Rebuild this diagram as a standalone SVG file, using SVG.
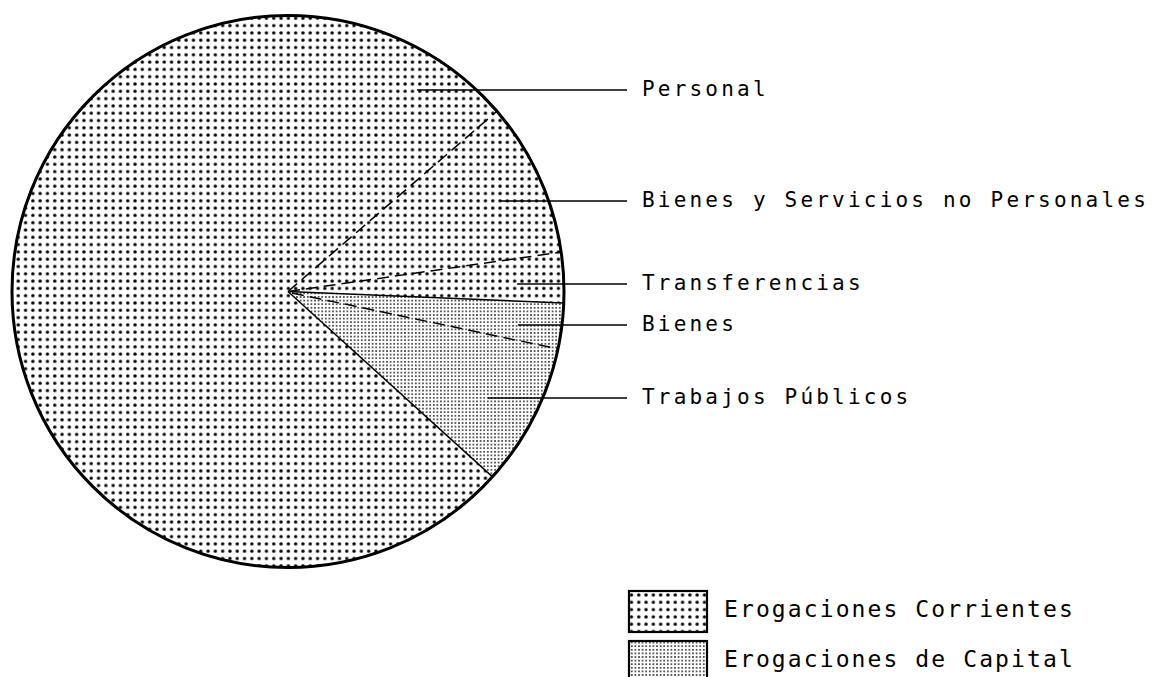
<svg xmlns="http://www.w3.org/2000/svg" width="1159" height="677" viewBox="0 0 1159 677">
  <defs>
    <pattern id="pCorr" x="0" y="0" width="7.3" height="7.3" patternUnits="userSpaceOnUse">
      <circle cx="3.65" cy="3.65" r="1.7" fill="#000"/>
    </pattern>
    <pattern id="pCap" x="0" y="0" width="3.6" height="3.6" patternUnits="userSpaceOnUse">
      <circle cx="1.8" cy="1.8" r="0.8" fill="#000"/>
    </pattern>
  </defs>
  <style>
    .lbl { font-family: "DejaVu Sans Mono", "Liberation Mono", monospace; font-size: 21px; letter-spacing: 3.2px; fill: #000; }
    .leg { font-family: "DejaVu Sans Mono", "Liberation Mono", monospace; font-size: 23px; letter-spacing: 2.1px; fill: #000; }
    .lead { stroke: #000; stroke-width: 1.6; fill: none; }
    .div { stroke: #000; stroke-width: 1.5; fill: none; }
    .dash { stroke: #000; stroke-width: 1.5; fill: none; stroke-dasharray: 12 6; }
  </style>
  <rect width="1159" height="677" fill="#fff"/>

  <g id="pie">
    <circle id="slice-corrientes" cx="288" cy="291.5" r="276" fill="url(#pCorr)"/>
    <path id="slice-capital" d="M288,291.5 L563.8,303.1 A276,276 0 0,1 492.5,476.9 Z" fill="#fff"/>
    <path d="M288,291.5 L563.8,303.1 A276,276 0 0,1 492.5,476.9 Z" fill="url(#pCap)"/>
    <line class="div" x1="288" y1="291.5" x2="563.8" y2="303.1"/>
    <line class="div" x1="288" y1="291.5" x2="492.5" y2="476.9"/>
    <line class="dash" x1="288" y1="291.5" x2="496.9" y2="111.2"/>
    <line class="dash" x1="288" y1="291.5" x2="561.2" y2="252.1"/>
    <line class="dash" x1="292" y1="293" x2="558" y2="348.9"/>
    <circle cx="288" cy="291.5" r="276" fill="none" stroke="#000" stroke-width="3"/>
  </g>

  <g id="connectors">
    <line class="lead" x1="417" y1="90" x2="627" y2="90"/>
    <line class="lead" x1="501" y1="201" x2="627" y2="201"/>
    <line class="lead" x1="517" y1="284" x2="627" y2="284"/>
    <line class="lead" x1="518" y1="325" x2="627" y2="325"/>
    <line class="lead" x1="488" y1="398" x2="627" y2="398"/>
  </g>

  <g id="label-personal"><text class="lbl" x="642" y="95.5">Personal</text></g>
  <g id="label-bienes-servicios"><text class="lbl" x="642" y="206.5">Bienes y Servicios no Personales</text></g>
  <g id="label-transferencias"><text class="lbl" x="642" y="290">Transferencias</text></g>
  <g id="label-bienes"><text class="lbl" x="642" y="331">Bienes</text></g>
  <g id="label-trabajos"><text class="lbl" x="642" y="404">Trabajos Públicos</text></g>

  <g id="legend-corrientes">
    <rect x="629" y="591" width="78" height="41" fill="url(#pCorr)" stroke="#000" stroke-width="2.2"/>
    <text class="leg" x="724" y="617">Erogaciones Corrientes</text>
  </g>
  <g id="legend-capital">
    <rect x="629" y="641" width="78" height="41" fill="url(#pCap)" stroke="#000" stroke-width="2.2"/>
    <text class="leg" x="724" y="667">Erogaciones de Capital</text>
  </g>
</svg>
